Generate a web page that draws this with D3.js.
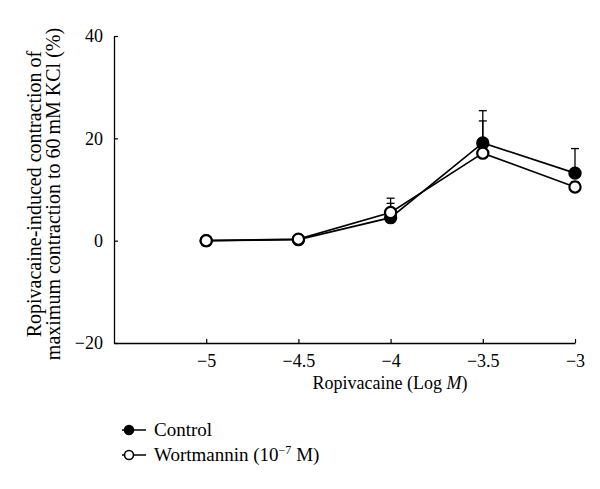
<!DOCTYPE html>
<html>
<head>
<meta charset="utf-8">
<script src="https://cdn.jsdelivr.net/npm/d3@7"></script>
<style>
  body { margin: 0; background: #fff; }
  svg text { font-family: "Liberation Serif", "DejaVu Serif", serif; fill: #000; }
</style>
</head>
<body>
<svg></svg>
<script>
// concentrations (log M) and the two series
const doses = [-5, -4.5, -4, -3.5, -3];
const controlMean = [0, 0.2, 4.5, 19.1, 13.2];
const controlErr = [0, 0.3, 3.8, 6.3, 4.8];
const wortMean = [0, 0.3, 5.5, 17.1, 10.5];
const wortErr = [0, 0.2, 1.8, 6.3, 1.0];
const xTicks = [-5, -4.5, -4, -3.5, -3];
const yTicks = [-20, 0, 20, 40];

const size = {w: 600, h: 489};
const plot = {l: 114, r: 575, t: 36, b: 343};

const svg = d3.select('svg')
    .attr('width', size.w)
    .attr('height', size.h);

let x = d3.scaleLinear().domain([-5.5, -3]).range([plot.l, plot.r]);
let y = d3.scaleLinear().domain([-20, 40]).range([plot.b, plot.t]);

// axes: ticks point inward, labels sit outside
let xAxis = d3.axisBottom(x).tickValues(xTicks).tickSizeInner(-4).tickSizeOuter(0)
    .tickPadding(11).tickFormat(d => d3.format('')(d).replace('-', '\u2212'));
let yAxis = d3.axisLeft(y).tickValues(yTicks).tickSizeInner(-4).tickSizeOuter(0)
    .tickPadding(11).tickFormat(d => String(d).replace('-', '\u2212'));

let gx = svg.append('g').attr('transform', `translate(0,${plot.b})`).call(xAxis);
let gy = svg.append('g').attr('transform', `translate(${plot.l},0)`).call(yAxis);
[gx, gy].forEach(g => {
    g.select('.domain').attr('stroke', '#000').attr('stroke-width', 1.3);
    g.selectAll('.tick line').attr('stroke', '#000').attr('stroke-width', 1.2);
    g.selectAll('.tick text').style('font-size', '18px').attr('fill', '#000');
});

svg.append('text')
    .attr('x', 390).attr('y', 389)
    .attr('text-anchor', 'middle').style('font-size', '18px')
    .html('Ropivacaine (Log <tspan font-style="italic">M</tspan>)');

let yl = svg.append('text')
    .attr('transform', 'translate(0,194) rotate(-90)')
    .attr('text-anchor', 'middle').style('font-size', '20px');
yl.append('tspan').attr('x', 0).attr('y', 41).text('Ropivacaine-induced contraction of');
yl.append('tspan').attr('x', 0).attr('y', 60).text('maximum contraction to 60\u2009mM KCl (%)');

const series = [
    {mean: controlMean, err: controlErr, fill: '#000'},
    {mean: wortMean, err: wortErr, fill: '#fff'}
];

let line = d3.line().x((d, i) => x(doses[i])).y(d => y(d));

series.forEach(s => {
    svg.append('path').datum(s.mean).attr('d', line)
        .attr('fill', 'none').attr('stroke', '#000').attr('stroke-width', 1.6);
});

series.forEach(s => {
    let g = svg.append('g');
    doses.forEach((dose, i) => {
        if (s.err[i] <= 0) return;
        let top = y(s.mean[i] + s.err[i]);
        g.append('line').attr('x1', x(dose)).attr('x2', x(dose))
            .attr('y1', y(s.mean[i])).attr('y2', top)
            .attr('stroke', '#000').attr('stroke-width', 1.3);
        g.append('line').attr('x1', x(dose) - 4).attr('x2', x(dose) + 4)
            .attr('y1', top).attr('y2', top)
            .attr('stroke', '#000').attr('stroke-width', 1.3);
    });
});

series.forEach(s => {
    svg.append('g').selectAll('circle').data(s.mean).enter().append('circle')
        .attr('cx', (d, i) => x(doses[i])).attr('cy', d => y(d)).attr('r', 5.6)
        .attr('fill', s.fill).attr('stroke', '#000').attr('stroke-width', 2.2);
});

// legend
const legendItems = [
    {fill: '#000', y: 430, label: 'Control'},
    {fill: '#fff', y: 455, label: 'Wortmannin (10<tspan dy="-7" font-size="12px">\u22127</tspan><tspan dy="7"> M)</tspan>'}
];
legendItems.forEach(it => {
    svg.append('line').attr('x1', 122).attr('x2', 146).attr('y1', it.y).attr('y2', it.y)
        .attr('stroke', '#000').attr('stroke-width', 1.5);
    svg.append('circle').attr('cx', 129).attr('cy', it.y).attr('r', 4.5)
        .attr('fill', it.fill).attr('stroke', '#000').attr('stroke-width', 1.6);
    svg.append('text').attr('x', 154).attr('y', it.y + 6).style('font-size', '19px').html(it.label);
});
</script>
</body>
</html>
